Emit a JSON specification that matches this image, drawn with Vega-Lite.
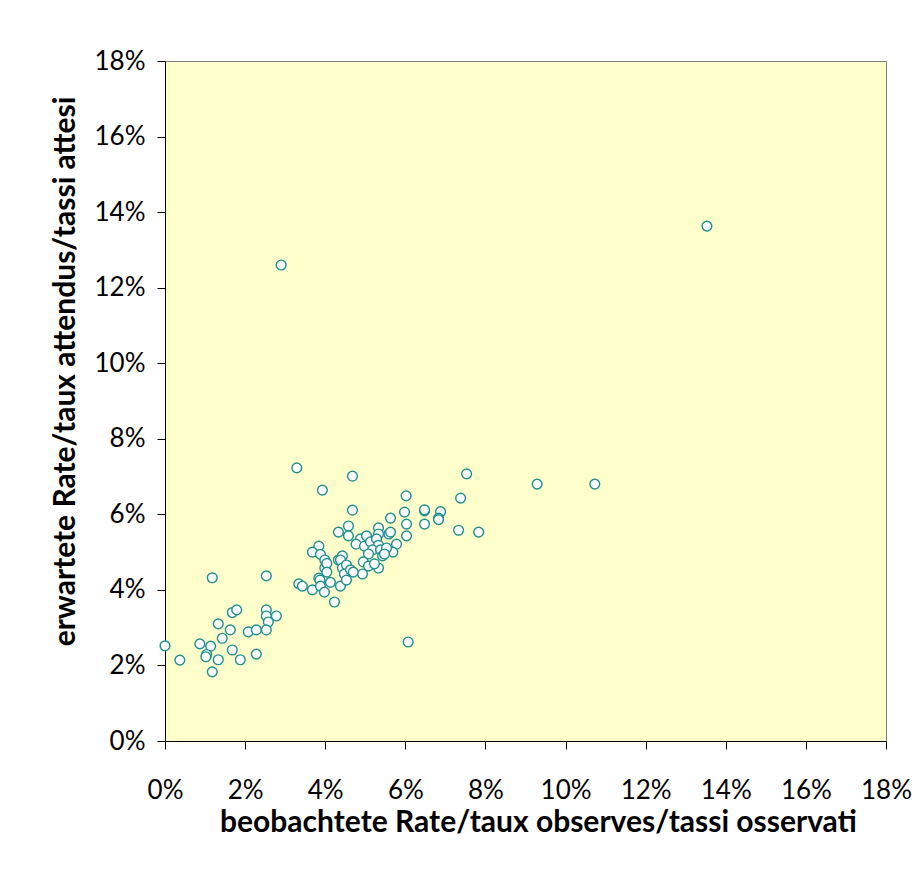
{
  "$schema": "https://vega.github.io/schema/vega-lite/v6.json",
  "autosize": "none",
  "width": 721,
  "height": 680,
  "padding": {"left": 165, "top": 61, "right": 37, "bottom": 145},
  "background": "white",
  "config": {
    "view": {"fill": "#FFFFCC", "stroke": "#808080", "strokeWidth": 1},
    "font": "Lato"
  },
  "data": {
    "values": [
      {"obs": 0, "exp": 2.52}, {"obs": 0.37, "exp": 2.14}, {"obs": 0.87, "exp": 2.57}, {"obs": 1.14, "exp": 2.51},
      {"obs": 1.04, "exp": 2.29}, {"obs": 1.02, "exp": 2.23}, {"obs": 1.33, "exp": 2.15}, {"obs": 1.18, "exp": 1.83},
      {"obs": 1.18, "exp": 4.32}, {"obs": 1.33, "exp": 3.10}, {"obs": 1.43, "exp": 2.72}, {"obs": 1.63, "exp": 2.94},
      {"obs": 1.68, "exp": 3.40}, {"obs": 1.79, "exp": 3.47}, {"obs": 1.68, "exp": 2.41}, {"obs": 1.88, "exp": 2.15},
      {"obs": 2.08, "exp": 2.89}, {"obs": 2.28, "exp": 2.94}, {"obs": 2.28, "exp": 2.30}, {"obs": 2.53, "exp": 4.37},
      {"obs": 2.53, "exp": 3.47}, {"obs": 2.53, "exp": 3.31}, {"obs": 2.58, "exp": 3.15}, {"obs": 2.53, "exp": 2.94},
      {"obs": 2.78, "exp": 3.31}, {"obs": 3.34, "exp": 4.16}, {"obs": 3.43, "exp": 4.10}, {"obs": 3.68, "exp": 4.00},
      {"obs": 3.84, "exp": 4.31}, {"obs": 3.87, "exp": 4.26}, {"obs": 3.88, "exp": 4.10}, {"obs": 3.98, "exp": 3.94},
      {"obs": 3.99, "exp": 4.58}, {"obs": 4.13, "exp": 4.20}, {"obs": 4.23, "exp": 3.68}, {"obs": 4.38, "exp": 4.10},
      {"obs": 6.07, "exp": 2.62}, {"obs": 2.90, "exp": 12.6}, {"obs": 13.53, "exp": 13.63}, {"obs": 9.29, "exp": 6.80},
      {"obs": 10.73, "exp": 6.80}, {"obs": 3.29, "exp": 7.23}, {"obs": 4.68, "exp": 7.01}, {"obs": 3.93, "exp": 6.64},
      {"obs": 7.53, "exp": 7.07}, {"obs": 7.38, "exp": 6.43}, {"obs": 4.68, "exp": 6.11}, {"obs": 6.02, "exp": 6.49},
      {"obs": 5.63, "exp": 5.90}, {"obs": 4.58, "exp": 5.69}, {"obs": 4.33, "exp": 5.53}, {"obs": 4.58, "exp": 5.43},
      {"obs": 5.33, "exp": 5.64}, {"obs": 5.33, "exp": 5.48}, {"obs": 5.59, "exp": 5.48}, {"obs": 5.78, "exp": 5.21},
      {"obs": 5.69, "exp": 5.00}, {"obs": 5.98, "exp": 6.06}, {"obs": 6.48, "exp": 6.09}, {"obs": 6.48, "exp": 6.12},
      {"obs": 6.88, "exp": 6.07}, {"obs": 6.83, "exp": 5.90}, {"obs": 6.83, "exp": 5.86}, {"obs": 6.03, "exp": 5.74},
      {"obs": 6.48, "exp": 5.74}, {"obs": 7.33, "exp": 5.58}, {"obs": 7.83, "exp": 5.53}, {"obs": 6.03, "exp": 5.43},
      {"obs": 5.63, "exp": 5.53}, {"obs": 4.88, "exp": 5.35}, {"obs": 5.03, "exp": 5.43}, {"obs": 4.77, "exp": 5.21},
      {"obs": 4.98, "exp": 5.16}, {"obs": 5.13, "exp": 5.27}, {"obs": 5.28, "exp": 5.35}, {"obs": 5.33, "exp": 5.18},
      {"obs": 5.18, "exp": 5.06}, {"obs": 5.08, "exp": 4.95}, {"obs": 5.38, "exp": 5.06}, {"obs": 5.53, "exp": 5.11},
      {"obs": 5.43, "exp": 4.90}, {"obs": 5.48, "exp": 4.95}, {"obs": 4.95, "exp": 4.74}, {"obs": 5.08, "exp": 4.63},
      {"obs": 5.33, "exp": 4.58}, {"obs": 5.23, "exp": 4.69}, {"obs": 4.93, "exp": 4.42}, {"obs": 3.84, "exp": 5.16},
      {"obs": 3.68, "exp": 5.00}, {"obs": 3.88, "exp": 4.94}, {"obs": 3.99, "exp": 4.79}, {"obs": 4.04, "exp": 4.70},
      {"obs": 4.04, "exp": 4.47}, {"obs": 4.33, "exp": 4.79}, {"obs": 4.43, "exp": 4.90}, {"obs": 4.38, "exp": 4.79},
      {"obs": 4.43, "exp": 4.58}, {"obs": 4.53, "exp": 4.66}, {"obs": 4.48, "exp": 4.42}, {"obs": 4.63, "exp": 4.53},
      {"obs": 4.53, "exp": 4.26}, {"obs": 4.70, "exp": 4.47}
    ]
  },
  "mark": {"type": "point", "shape": "circle", "filled": false, "fill": "white", "fillOpacity": 1, "stroke": "#1f8f8f", "strokeWidth": 1.4, "opacity": 1, "size": 95},
  "encoding": {
    "x": {
      "field": "obs", "type": "quantitative",
      "scale": {"domain": [0, 18], "nice": false, "zero": false},
      "axis": {
        "values": [0, 2, 4, 6, 8, 10, 12, 14, 16, 18],
        "labelExpr": "datum.value + '%'",
        "labelFlush": false, "labelOverlap": false, "labelBound": false,
        "title": "beobachtete Rate/taux observes/tassi osservati",
        "grid": false,
        "domainColor": "black", "domainWidth": 1,
        "tickColor": "black", "tickSize": 8, "tickWidth": 1,
        "labelFontSize": 26, "labelColor": "black", "labelPadding": 28, "labelFont": "Lato",
        "titleFontSize": 30, "titleFontWeight": "bold", "titleColor": "black", "titleFont": "Lato",
        "titlePadding": 4, "titleX": 373
      }
    },
    "y": {
      "field": "exp", "type": "quantitative",
      "scale": {"domain": [0, 18], "nice": false, "zero": false},
      "axis": {
        "values": [0, 2, 4, 6, 8, 10, 12, 14, 16, 18],
        "labelExpr": "datum.value + '%'",
        "labelFlush": false, "labelOverlap": false, "labelBound": false,
        "title": "erwartete Rate/taux attendus/tassi attesi",
        "grid": false,
        "domainColor": "black", "domainWidth": 1,
        "tickColor": "black", "tickSize": 8, "tickWidth": 1,
        "labelFontSize": 26, "labelColor": "black", "labelPadding": 12, "labelFont": "Lato",
        "titleFontSize": 30, "titleFontWeight": "bold", "titleColor": "black", "titleFont": "Lato",
        "titlePadding": 14, "titleY": 310
      }
    }
  }
}
